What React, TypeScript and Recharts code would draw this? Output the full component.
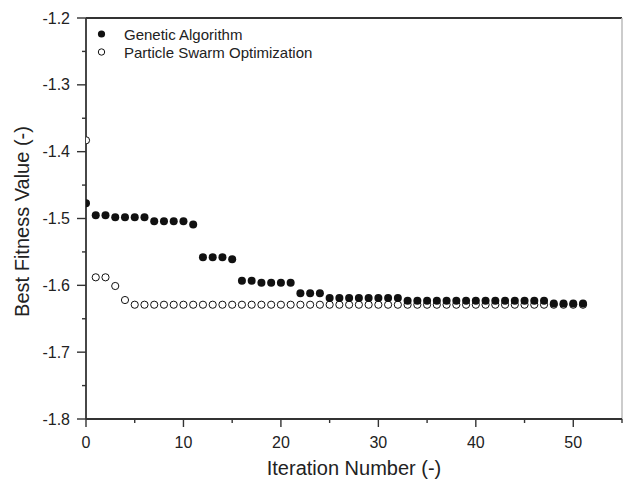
import React from "react";
import { ReferenceLine, Scatter, ScatterChart, XAxis, YAxis } from "recharts";

// iteration index shared by both runs
const iterations = [
  0, 1, 2, 3, 4, 5, 6, 7, 8, 9, 10, 11, 12, 13, 14, 15, 16, 17, 18, 19, 20, 21, 22, 23, 24, 25,
  26, 27, 28, 29, 30, 31, 32, 33, 34, 35, 36, 37, 38, 39, 40, 41, 42, 43, 44, 45, 46, 47, 48, 49, 50, 51,
];

const gaFitness = [
  -1.477, -1.495, -1.495, -1.498, -1.498, -1.498, -1.498, -1.504, -1.504, -1.504, -1.504, -1.509,
  -1.558, -1.558, -1.558, -1.561, -1.593, -1.593, -1.596, -1.596, -1.596, -1.596, -1.612, -1.612,
  -1.612, -1.619, -1.619, -1.619, -1.619, -1.619, -1.619, -1.619, -1.619, -1.623, -1.623, -1.623,
  -1.623, -1.623, -1.623, -1.623, -1.623, -1.623, -1.623, -1.623, -1.623, -1.623, -1.623, -1.623,
  -1.627, -1.627, -1.627, -1.627,
];

const psoFitness = [
  -1.383, -1.588, -1.588, -1.601, -1.622, -1.629, -1.629, -1.629, -1.629, -1.629, -1.629, -1.629,
  -1.629, -1.629, -1.629, -1.629, -1.629, -1.629, -1.629, -1.629, -1.629, -1.629, -1.629, -1.629,
  -1.629, -1.629, -1.629, -1.629, -1.629, -1.629, -1.629, -1.629, -1.629, -1.629, -1.629, -1.629,
  -1.629, -1.629, -1.629, -1.629, -1.629, -1.629, -1.629, -1.629, -1.629, -1.629, -1.629, -1.629,
  -1.629, -1.629, -1.629, -1.629,
];

const xTicks = [0, 5, 10, 15, 20, 25, 30, 35, 40, 45, 50, 55];
const xLabels = ["0", "", "10", "", "20", "", "30", "", "40", "", "50", ""];
const yTicks = [-1.8, -1.75, -1.7, -1.65, -1.6, -1.55, -1.5, -1.45, -1.4, -1.35, -1.3, -1.25, -1.2];
const yLabels = ["-1.8", "", "-1.7", "", "-1.6", "", "-1.5", "", "-1.4", "", "-1.3", "", "-1.2"];

const seriesNames = ["Genetic Algorithm", "Particle Swarm Optimization"];

const gaPoints = iterations.map((it, i) => ({ x: it, y: gaFitness[i] }));
const psoPoints = iterations.map((it, i) => ({ x: it, y: psoFitness[i] }));

const AXIS = "#333";
const FONT = "'Liberation Sans', Arial, sans-serif";

function XTick(props: any) {
  const { x, y, index } = props;
  const label = xLabels[index];
  const len = label ? 8 : 4;
  return (
    <g>
      <line x1={x} x2={x} y1={y} y2={y + len} stroke={AXIS} strokeWidth={1.4} />
      {label && (
        <text x={x} y={y + 23} textAnchor="middle" dominantBaseline="central" fontSize={16} fill="#222" fontFamily={FONT}>
          {label}
        </text>
      )}
    </g>
  );
}

function YTick(props: any) {
  const { x, y, index } = props;
  const label = yLabels[index];
  const len = label ? 9 : 4;
  return (
    <g>
      <line x1={x - len} x2={x} y1={y} y2={y} stroke={AXIS} strokeWidth={1.4} />
      {label && (
        <text x={x - 16} y={y} textAnchor="end" dominantBaseline="central" fontSize={16} fill="#222" fontFamily={FONT}>
          {label}
        </text>
      )}
    </g>
  );
}

const filledDot = (p: any) => <circle cx={p.cx} cy={p.cy} r={4} fill="#111" />;
const openDot = (p: any) => <circle cx={p.cx} cy={p.cy} r={3.6} fill="#fff" stroke="#111" strokeWidth={1} />;

export default function App() {
  return (
    <div style={{ position: "absolute", left: 0, top: 0, width: 623, height: 482, background: "#fff", fontFamily: FONT }}>
      <ScatterChart width={623} height={482} margin={{ top: 18, right: 1, bottom: 0, left: 0 }}>
        <XAxis
          type="number"
          dataKey="x"
          domain={[0, 55]}
          ticks={xTicks}
          interval={0}
          height={63}
          tickSize={0}
          tickMargin={0}
          tick={XTick}
          axisLine={{ stroke: AXIS, strokeWidth: 1.8 }}
          allowDataOverflow
          label={{
            content: (p: any) => {
              const vb = p.viewBox;
              return (
                <text x={vb.x + vb.width / 2} y={vb.y + 49} textAnchor="middle" dominantBaseline="central" fontSize={20} fill="#222" fontFamily={FONT}>
                  Iteration Number (-)
                </text>
              );
            },
          }}
        />
        <YAxis
          type="number"
          dataKey="y"
          domain={[-1.8, -1.2]}
          ticks={yTicks}
          interval={0}
          width={86}
          tickSize={0}
          tickMargin={0}
          tick={YTick}
          axisLine={{ stroke: AXIS, strokeWidth: 1.8 }}
          allowDataOverflow
          label={{
            content: (p: any) => {
              const vb = p.viewBox;
              const cx = vb.x + 22;
              const cy = vb.y + vb.height / 2 + 3;
              return (
                <text x={cx} y={cy} transform={`rotate(-90 ${cx} ${cy})`} textAnchor="middle" dominantBaseline="central" fontSize={20} fill="#222" fontFamily={FONT}>
                  Best Fitness Value (-)
                </text>
              );
            },
          }}
        />
        <ReferenceLine y={-1.2} stroke={AXIS} strokeWidth={1.8} />
        <ReferenceLine x={55} stroke="#bbb" strokeWidth={1.5} />
        <Scatter name={seriesNames[1]} data={psoPoints} shape={openDot} isAnimationActive={false} />
        <Scatter name={seriesNames[0]} data={gaPoints} shape={filledDot} isAnimationActive={false} />
      </ScatterChart>
      <svg width={330} height={70} style={{ position: "absolute", left: 0, top: 0 }}>
        <circle cx={101.5} cy={34} r={3.6} fill="#111" />
        <text x={124} y={34} dominantBaseline="central" fontSize={15} fill="#222" fontFamily={FONT}>
          {seriesNames[0]}
        </text>
        <circle cx={101.5} cy={52} r={3.2} fill="#fff" stroke="#111" strokeWidth={1} />
        <text x={124} y={52} dominantBaseline="central" fontSize={15} fill="#222" fontFamily={FONT}>
          {seriesNames[1]}
        </text>
      </svg>
    </div>
  );
}
